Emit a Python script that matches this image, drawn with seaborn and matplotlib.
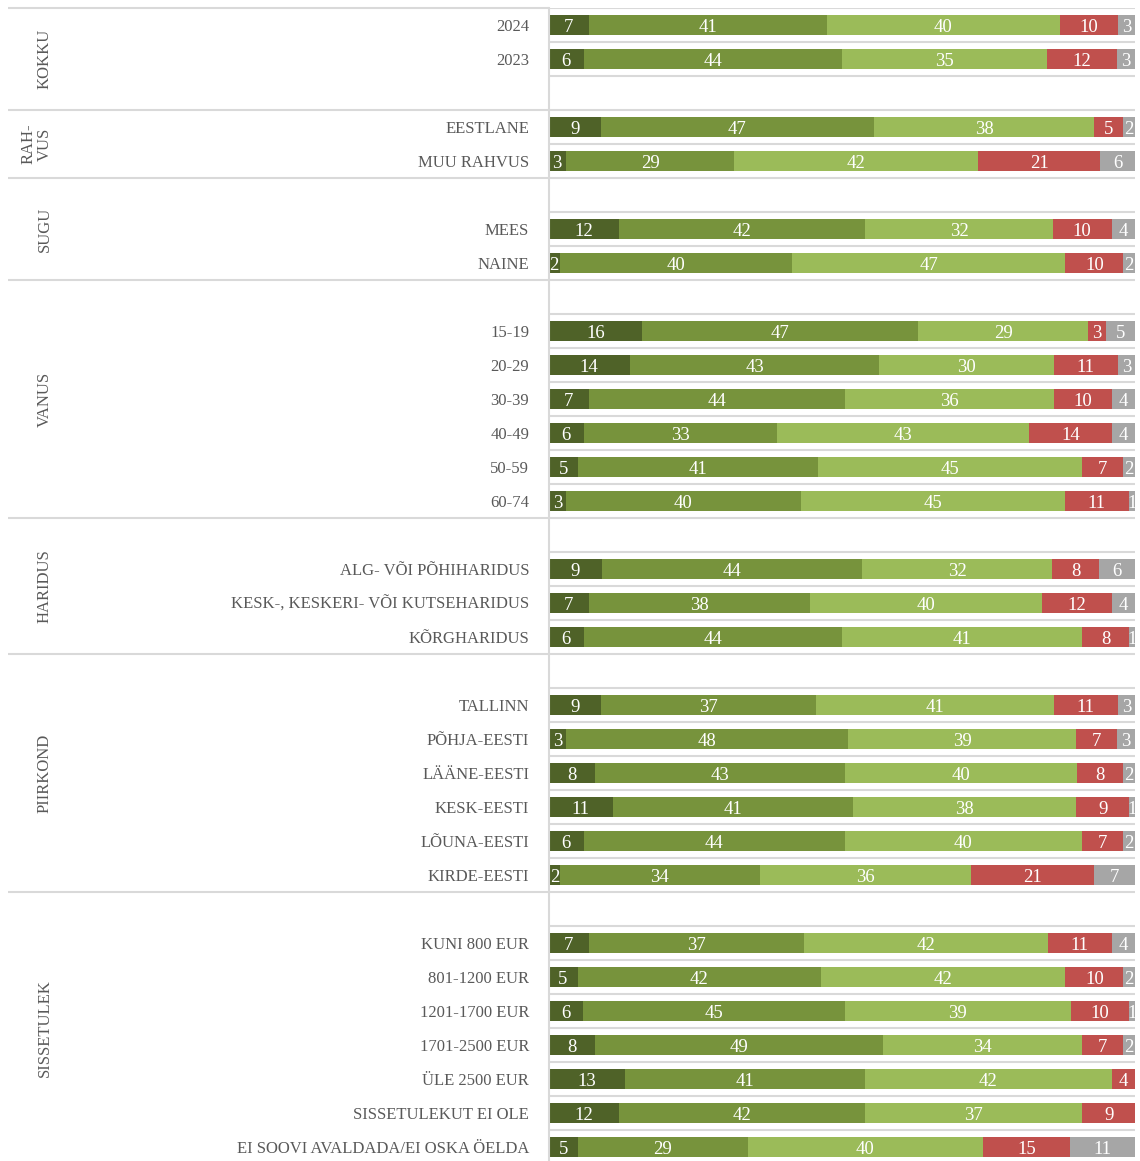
import numpy as np
import pandas as pd
import matplotlib
matplotlib.use("Agg")
import matplotlib.pyplot as plt
import seaborn as sns

# ------------------------- data ------------------------- #
groups = ["KOKKU", "RAH-\nVUS", "SUGU", "VANUS", "HARIDUS", "PIIRKOND", "SISSETULEK"]
group_items = [
    ["2024", "2023"],
    ["EESTLANE", "MUU RAHVUS"],
    ["MEES", "NAINE"],
    ["15-19", "20-29", "30-39", "40-49", "50-59", "60-74"],
    ["ALG- VÕI PÕHIHARIDUS", "KESK-, KESKERI- VÕI KUTSEHARIDUS", "KÕRGHARIDUS"],
    ["TALLINN", "PÕHJA-EESTI", "LÄÄNE-EESTI", "KESK-EESTI", "LÕUNA-EESTI", "KIRDE-EESTI"],
    ["KUNI 800 EUR", "801-1200 EUR", "1201-1700 EUR", "1701-2500 EUR", "ÜLE 2500 EUR",
     "SISSETULEKUT EI OLE", "EI SOOVI AVALDADA/EI OSKA ÖELDA"],
]
# empty rows in the layout (before / after each group)
blank_before = [0, 0, 1, 1, 1, 1, 1]
blank_after = [1, 0, 0, 0, 0, 0, 0]

s1 = [7, 6, 9, 3, 12, 2, 16, 14, 7, 6, 5, 3, 9, 7, 6, 9, 3, 8, 11, 6, 2, 7, 5, 6, 8, 13, 12, 5]
s2 = [41, 44, 47, 29, 42, 40, 47, 43, 44, 33, 41, 40, 44, 38, 44, 37, 48, 43, 41, 44, 34, 37, 42, 45, 49, 41, 42, 29]
s3 = [40, 35, 38, 42, 32, 47, 29, 30, 36, 43, 45, 45, 32, 40, 41, 41, 39, 40, 38, 40, 36, 42, 42, 39, 34, 42, 37, 40]
s4 = [10, 12, 5, 21, 10, 10, 3, 11, 10, 14, 7, 11, 8, 12, 8, 11, 7, 8, 9, 7, 21, 11, 10, 10, 7, 4, 9, 15]
s5 = [3, 3, 2, 6, 4, 2, 5, 3, 4, 4, 2, 1, 6, 4, 1, 3, 3, 2, 1, 2, 7, 4, 2, 1, 2, 0, 0, 11]

colors = ["#4F6228", "#77933C", "#9BBB59", "#C0504D", "#A6A6A6"]

# ------------------------- layout of rows ------------------------- #
labels, pos, spans = [], [], []
y = 0
for g, items in enumerate(group_items):
    top = y
    y += blank_before[g]
    for it in items:
        labels.append(it)
        pos.append(y)
        y += 1
    y += blank_after[g]
    spans.append((top - 0.5, y - 0.5))
n_rows = y

series = np.array([s1, s2, s3, s4, s5], dtype=float)
share = series / series.sum(axis=0) * 100  # 100% stacked like in excel
cum = np.cumsum(share, axis=0)

df = pd.DataFrame({"Kategooria": labels, "pos": pos})
for k in range(5):
    df["cum%d" % k] = cum[k]

# ------------------------- plotting ------------------------- #
sns.set_style("white")
plt.rcParams["font.family"] = ["Liberation Serif", "DejaVu Serif"]

fig = plt.figure(figsize=(11.4, 11.61), dpi=100)
W, H = 1140, 1161
ax_left, ax_right = 548.5, 1135
ax_top, row_h = 8, 34.0
ax = fig.add_axes([ax_left / W, (H - ax_top - n_rows * row_h) / H,
                   (ax_right - ax_left) / W, n_rows * row_h / H])

# draw from the longest cumulative bar to the shortest so they stack
for k in range(4, -1, -1):
    sns.barplot(data=df, x="cum%d" % k, y="pos", orient="h", native_scale=True,
                color=colors[k], saturation=1, width=0.56, linewidth=0,
                errorbar=None, ax=ax)

ax.set_xlim(0, 100)
ax.set_ylim(n_rows - 0.5, -0.5)
ax.set_xlabel("")
ax.set_ylabel("")
ax.set_xticks([])
ax.set_yticks(pos)
ax.set_yticklabels(labels, fontsize=12, color="#595959")
ax.tick_params(axis="y", length=0, pad=14)
for side in ["top", "right", "bottom"]:
    ax.spines[side].set_visible(False)
ax.spines["left"].set_color("#D9D9D9")
ax.spines["left"].set_linewidth(1.5)

# value labels
for i in range(len(labels)):
    left = 0
    for k in range(5):
        v = series[k, i]
        if v > 0:
            ax.text(left + share[k, i] / 2, pos[i], "%d" % v, ha="center",
                    va="center_baseline", color="white", fontsize=13.5)
        left += share[k, i]

# row grid lines in the plot area
trans = ax.get_yaxis_transform()
ax.hlines(np.arange(n_rows + 1) - 0.5, 0, 1, transform=trans, color="#D9D9D9",
          linewidth=1.5, zorder=0)
# group separators reaching to the left edge
x_far = (8 - ax_left) / (ax_right - ax_left)
sep_y = [spans[0][0]] + [s[1] for s in spans[:-1]]
ax.hlines(sep_y, x_far, 0, transform=trans, color="#D9D9D9", linewidth=1.5,
          clip_on=False)

# group names, rotated
x_grp = (45 - ax_left) / (ax_right - ax_left)
for g, name in enumerate(groups):
    yc = (spans[g][0] + spans[g][1]) / 2
    xg = x_grp - (8 / (ax_right - ax_left) if "\n" in name else 0)
    ax.text(xg, yc, name, transform=trans, rotation=90, ha="center", va="center",
            fontsize=12, color="#595959", linespacing=1.0, clip_on=False)

plt.savefig("out.png", dpi=100)
